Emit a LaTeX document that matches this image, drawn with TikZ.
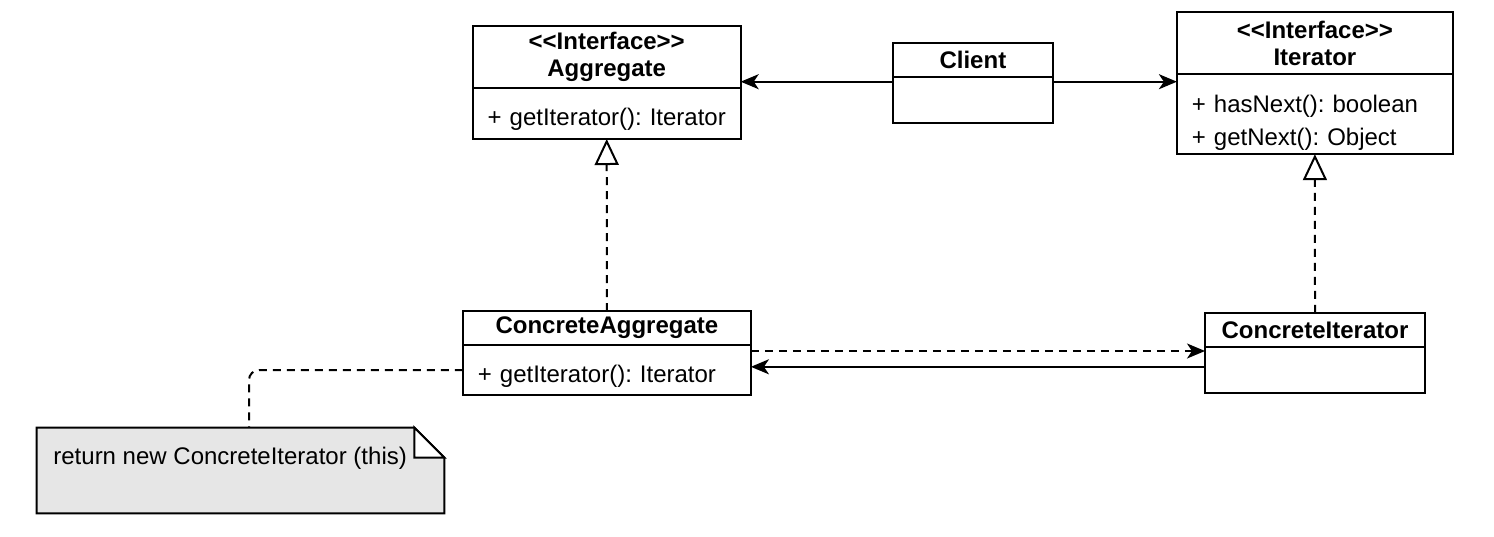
\documentclass[tikz,border=0pt]{standalone}
\usepackage{fontspec}
\setmainfont{Liberation Sans}
\usepackage{xcolor}
\usetikzlibrary{arrows.meta,positioning}
\definecolor{notegray}{HTML}{E6E6E6}
\frenchspacing
\tikzset{
  head/.style={draw, line width=1pt, outer sep=0pt, inner sep=0pt, align=center,
    font=\fontsize{12}{13.5}\selectfont\bfseries},
  body/.style={draw, line width=1pt, outer sep=0pt, inner xsep=7.5pt, inner ysep=0pt, align=left,
    font=\fontsize{12}{16.5}\selectfont, execute at begin node={\rule{0pt}{#1}}},
  body/.default=14.8pt,
  assoc/.style={line width=1pt, -{Stealth[length=9pt,width=7.5pt,inset=2.5pt]}},
  depend/.style={assoc, dash pattern=on 4pt off 3pt},
  realize/.style={line width=1pt, dash pattern=on 4pt off 3pt, -{Triangle[open,length=13pt,width=12pt]}},
  notebox/.style={draw, line width=1pt, fill=notegray},
  noteline/.style={line width=1pt, dash pattern=on 4pt off 3pt, rounded corners=5pt}
}
\begin{document}
\begin{tikzpicture}[x=0.5pt,y=-0.5pt]
        \useasboundingbox (0,0) rectangle (1494,536);
        \node[head, minimum width=134pt, minimum height=31pt] (aggH) at (606.7,57) {<\kern0pt<Interface>\kern0pt>\\Aggregate};
        \node[body, text width=119pt, minimum height=25.5pt, below=0pt of aggH] (aggB) {\mbox{+ getIterator(): Iterator}};
        \node[head, minimum width=80pt, minimum height=17pt] (cliH) at (972.9,59.7) {Client};
        \node[body, text width=65pt, minimum height=23pt, below=0pt of cliH] (cliB) {};
        \node[head, minimum width=138pt, minimum height=31pt] (itH) at (1314.9,43.2) {<\kern0pt<Interface>\kern0pt>\\Iterator};
        \node[body=16.8pt, text width=123pt, minimum height=40pt, below=0pt of itH] (itB) {+ hasNext(): boolean\\+ getNext(): Object};
        \node[head, minimum width=144pt, minimum height=17pt] (caggH) at (606.9,328) {ConcreteAggregate};
        \node[body, text width=129pt, minimum height=25pt, below=0pt of caggH] (caggB) {+ getIterator(): Iterator};
        \node[head, minimum width=110pt, minimum height=17pt] (citH) at (1315,329.8) {ConcreteIterator};
        \node[body, text width=95pt, minimum height=23pt, below=0pt of citH] (citB) {};
        \node[minimum width=203.5pt, minimum height=42.5pt, inner sep=0pt] (note) at (240.5,470.5) {};
        \filldraw[notebox] (note.south west) -- (note.north west) -- ([xshift=-15pt]note.north east)
            -- ([yshift=-15pt]note.north east) -- (note.south east) -- cycle;
        \filldraw[notebox, fill=white] ([xshift=-15pt]note.north east) -- ([xshift=-15pt,yshift=-15pt]note.north east)
            -- ([yshift=-15pt]note.north east) -- cycle;
        \node[anchor=west, inner sep=0pt, font=\fontsize{12}{14}\selectfont] (noteTxt) at (53,458) {return new ConcreteIterator (this)};
        \draw[assoc] ([yshift=-2.5pt]cliH.south west) -- ([yshift=-2.5pt]cliH.south west -| aggH.east);
        \draw[assoc] ([yshift=-2.5pt]cliH.south east) -- ([yshift=-2.5pt]cliH.south east -| itH.west);
        \draw[realize] (caggH.north) -- (aggB.south);
        \draw[realize] (citH.north) -- (itB.south);
        \draw[depend] ([yshift=-3pt]caggB.north east) -- ([yshift=-3pt]caggB.north east -| citB.west);
        \draw[assoc] ([yshift=-10pt]citB.north west) -- ([yshift=-10pt]citB.north west -| caggB.east);
        \draw[noteline] (caggB.west) -| ([xshift=4.25pt]note.north);
    \end{tikzpicture}
\end{document}
